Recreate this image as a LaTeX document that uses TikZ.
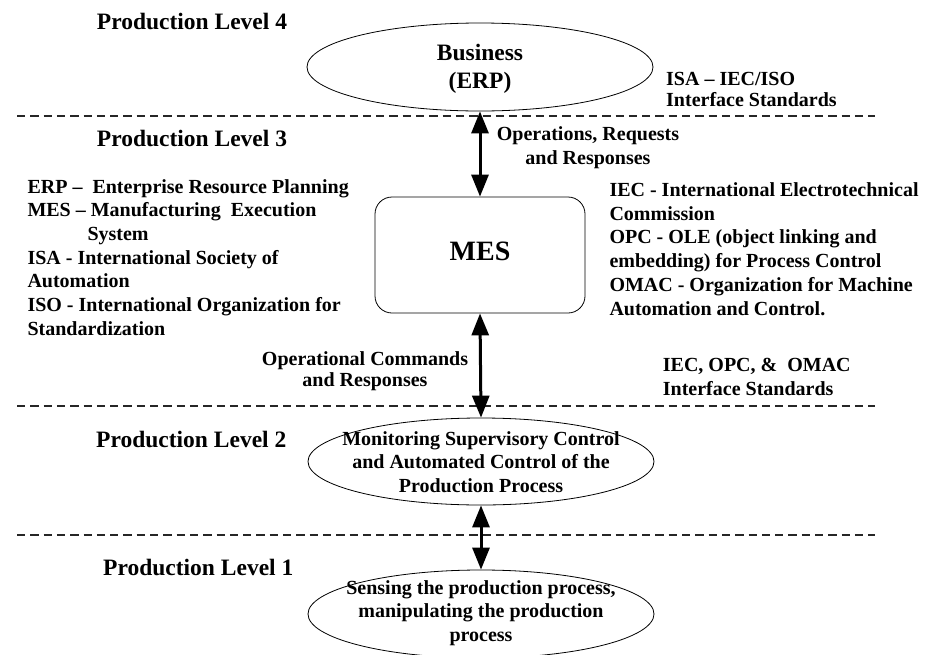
\documentclass[tikz,border=0pt]{standalone}
\usepackage{fontspec}
\setmainfont{Liberation Serif}
\usetikzlibrary{shapes.geometric,arrows.meta}
\begin{document}
\begin{tikzpicture}[x=1pt,y=-1pt,
  lvl/.style={font=\fontsize{23.5}{28}\selectfont\bfseries, anchor=base west, inner sep=0},
  txt/.style={font=\fontsize{20}{23.7}\selectfont\bfseries, inner sep=0, anchor=base west, align=left},
  ctxt/.style={font=\fontsize{20}{23.5}\selectfont\bfseries, inner sep=0, anchor=base, align=center},
  oval/.style={draw, ellipse, line width=0.8pt, minimum width=346pt, minimum height=88pt, inner sep=0},
  sepline/.style={dash pattern=on 8.3pt off 5pt, line width=1.4pt, black!85},
  link/.style={line width=3pt, {Triangle[width=17pt,length=22pt]}-{Triangle[width=17pt,length=22pt]}}
]
\useasboundingbox (0,0) rectangle (930,654);

% separators
\draw[sepline] (17,116) -- (875,116);
\draw[sepline] (17,406) -- (875,406);
\draw[sepline] (17,535) -- (875,535);

% level labels
\node[lvl] (l4) at (96.7,29) {Production Level 4};
\node[lvl] (l3) at (96.7,146) {Production Level 3};
\node[lvl] (l2) at (96,447) {Production Level 2};
\node[lvl] (l1) at (103,575) {Production Level 1};

% shapes
\node[oval] (erp) at (480,67) {};
\node[draw, rounded corners=17pt, line width=0.8pt, minimum width=210pt, minimum height=116pt, inner sep=0] (mes) at (480,255) {};
\node[oval, minimum height=87pt] (mon) at (481,461.5) {};
\node[oval] (sense) at (481,614) {};

% shape texts (multi-line nodes are placed by the baseline of their last line)
\node[font=\fontsize{23.5}{27.3}\selectfont\bfseries, anchor=base, align=center, inner sep=0] (erpt) at (480,88) {Business\\(ERP)};
\node[font=\fontsize{28}{30}\selectfont\bfseries, inner sep=0] (mest) at (480,251) {MES};
\node[ctxt] (mont) at (481,492) {Monitoring Supervisory Control\\and Automated Control of the\\Production Process};
\node[ctxt] (senset) at (481,641) {Sensing the production process,\\manipulating the production\\process};

% connectors
\draw[link] (erp.south) -- (mes.north);
\draw[link] (mes.south) -- (mon.north);
\draw[link] (mon.south) -- (sense.north);

% annotations
\node[txt, font=\fontsize{20}{21.7}\selectfont\bfseries] (isa) at (666,106.7) {ISA -- IEC/ISO\\Interface Standards};
\node[ctxt, font=\fontsize{20}{23.3}\selectfont\bfseries] (ops) at (588,164) {Operations, Requests\\and Responses};
\node[txt] (abbr) at (27.3,335.3) {ERP --\ \ Enterprise Resource Planning\\MES -- Manufacturing\ \ Execution\\\hspace*{60pt}System\\ISA - International Society of\\Automation\\ISO - International Organization for\\Standardization};
\node[txt] (defs) at (609.3,315) {IEC - International Electrotechnical\\Commission\\OPC - OLE (object linking and\\embedding) for Process Control\\OMAC - Organization for Machine\\Automation and Control.};
\node[ctxt, font=\fontsize{20}{21}\selectfont\bfseries] (opc) at (365,386) {Operational Commands\\and Responses};
\node[txt, font=\fontsize{20}{23.3}\selectfont\bfseries] (std) at (662.7,395) {IEC, OPC, \&\ \ OMAC\\Interface Standards};
\end{tikzpicture}
\end{document}
